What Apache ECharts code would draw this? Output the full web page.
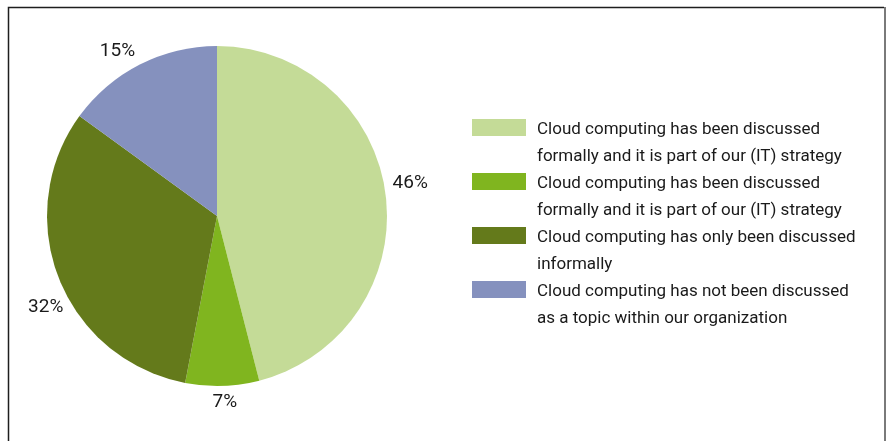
<!DOCTYPE html>
<html>
<head>
<meta charset="utf-8">
<script src="https://cdn.jsdelivr.net/npm/echarts@6/dist/echarts.min.js"></script>
<style>
  html, body { margin: 0; padding: 0; background: #ffffff; }
  #chart { width: 887px; height: 441px; }
</style>
</head>
<body>
<div id="chart"></div>
<script>
// Survey answers: has cloud computing been discussed in the organisation?
const categories = [
  'Cloud computing has been discussed\nformally and it is part of our (IT) strategy',
  'Cloud computing has been discussed\nformally and it is part of our (IT) strategy',
  'Cloud computing has only been discussed\ninformally',
  'Cloud computing has not been discussed\nas a topic within our organization'
];
const shares = [46, 7, 32, 15];
const sliceColors = ['#c4db97', '#80b51f', '#647a1b', '#8591be'];

// small per-label nudges so the percentages sit clear of the rim
const labelNudge = [[1, -11], [-10, 10], [10, 26], [-2, -8]];

const FONT = 'Roboto, "Liberation Sans", sans-serif';

// two entries share the same text, so keep the series names unique
const names = categories.map((c, i) => c + '\u200b'.repeat(i));

const chart = echarts.init(document.getElementById('chart'), null, { renderer: 'canvas' });

chart.setOption({
  animation: false,
  backgroundColor: '#ffffff',
  graphic: [
    {
      type: 'polyline',
      shape: { points: [[8.5, 441], [8.5, 7.5], [884, 7.5]] },
      style: { stroke: '#1e1e1e', lineWidth: 1.5, fill: null },
      silent: true
    },
    {
      type: 'line',
      shape: { x1: 885, y1: 7, x2: 885, y2: 441 },
      style: { stroke: '#7a7a7a', lineWidth: 2 },
      silent: true
    }
  ],
  legend: {
    orient: 'vertical',
    left: 472,
    top: 85,
    padding: 0,
    itemWidth: 54,
    itemHeight: 17,
    itemGap: -31,
    icon: 'rect',
    selectedMode: false,
    data: names,
    // each entry is two lines; the first line sits level with the swatch
    formatter: function (name) {
      return name.replace(/\u200b/g, '').split('\n').map(s => '{t|' + s + '}').join('\n');
    },
    textStyle: {
      fontFamily: FONT,
      fontSize: 17,
      lineHeight: 27,
      color: '#1a1a1a',
      padding: [31, 0, 0, 6],
      rich: {
        t: {
          fontFamily: FONT,
          fontSize: 17,
          lineHeight: 27,
          color: '#1a1a1a'
        }
      }
    }
  },
  series: [
    {
      type: 'pie',
      center: [217, 216],
      radius: 170,
      startAngle: 90,
      clockwise: true,
      avoidLabelOverlap: false,
      silent: true,
      itemStyle: { borderWidth: 0 },
      label: {
        show: true,
        position: 'outside',
        formatter: '{d}%',
        fontFamily: FONT,
        fontSize: 19,
        color: '#1a1a1a',
        distanceToLabelLine: 0
      },
      labelLine: { show: false, length: 6, length2: 0 },
      labelLayout: function (p) {
        const n = labelNudge[p.dataIndex];
        return { dx: n[0], dy: n[1] };
      },
      data: shares.map((v, i) => ({
        name: names[i],
        value: v,
        itemStyle: { color: sliceColors[i] }
      }))
    }
  ]
});
</script>
</body>
</html>
